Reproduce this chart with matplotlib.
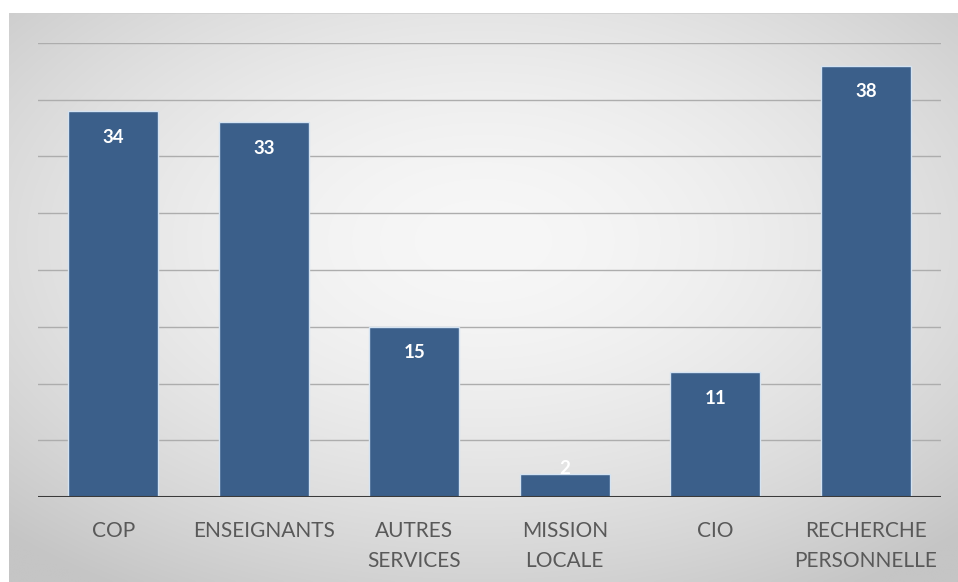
import numpy as np
import matplotlib.pyplot as plt

categories = ["COP", "ENSEIGNANTS", "AUTRES\nSERVICES", "MISSION\nLOCALE", "CIO", "RECHERCHE\nPERSONNELLE"]
values = [34, 33, 15, 2, 11, 38]
grid_levels = [5, 10, 15, 20, 25, 30, 35, 40]

BAR_COLOR = "#3b5f8a"
W, H = 958, 582


def radial_background(nx=400, ny=240):
    x = np.linspace(-1, 1, nx)
    y = np.linspace(-1, 1, ny)
    xx, yy = np.meshgrid(x, y)
    r = np.sqrt(xx ** 2 + (yy + 0.2) ** 2) / 1.45
    shade = 247 - 50 * np.clip(r, 0, 1) ** 1.7
    rgb = np.repeat(shade[..., None] / 255.0, 3, axis=2)
    return rgb


fig = plt.figure(figsize=(W / 100, H / 100), dpi=100)
fig.patch.set_facecolor("white")

# gradient panel behind the chart
bg = fig.add_axes([9 / W, 0, (W - 9) / W, (H - 13) / H])
bg.imshow(radial_background(), aspect="auto", extent=[0, 1, 0, 1], interpolation="bilinear")
bg.plot([0, 1], [1, 1], color="#cfcfcf", lw=1.2, transform=bg.transAxes)
bg.set_axis_off()

ax = fig.add_axes([38 / W, (H - 497) / H, 903 / W, 454 / H])
ax.patch.set_alpha(0)

x = np.arange(len(categories))
for level in grid_levels:
    ax.axhline(level, color="#adadad", lw=1, zorder=1)

bars = ax.bar(x, values, width=0.6, color=BAR_COLOR, edgecolor="#d4e3f2", linewidth=1, zorder=2)
ax.axhline(0, color="#3a3a3a", lw=2.2, zorder=3)

for rect, v in zip(bars, values):
    cx = rect.get_x() + rect.get_width() / 2
    # short bars get their label pushed up over the bar top
    dy = -26 if v > 4 else 6
    ax.annotate(str(v), (cx, v), xytext=(0, dy), textcoords="offset pixels",
                ha="center", va="center", color="white", fontsize=13.5, fontweight="bold",
                family="Lato", zorder=4)

ax.set_xlim(-0.5, len(categories) - 0.5)
ax.set_ylim(0, 40)
ax.set_xticks(x)
ax.set_xticklabels(categories, fontsize=15, color="#595959", family="Lato", linespacing=1.65)
ax.tick_params(axis="x", length=0, pad=17)
ax.set_yticks([])
for side in ["top", "right", "left", "bottom"]:
    ax.spines[side].set_visible(False)

fig.savefig("out.png", dpi=100)
